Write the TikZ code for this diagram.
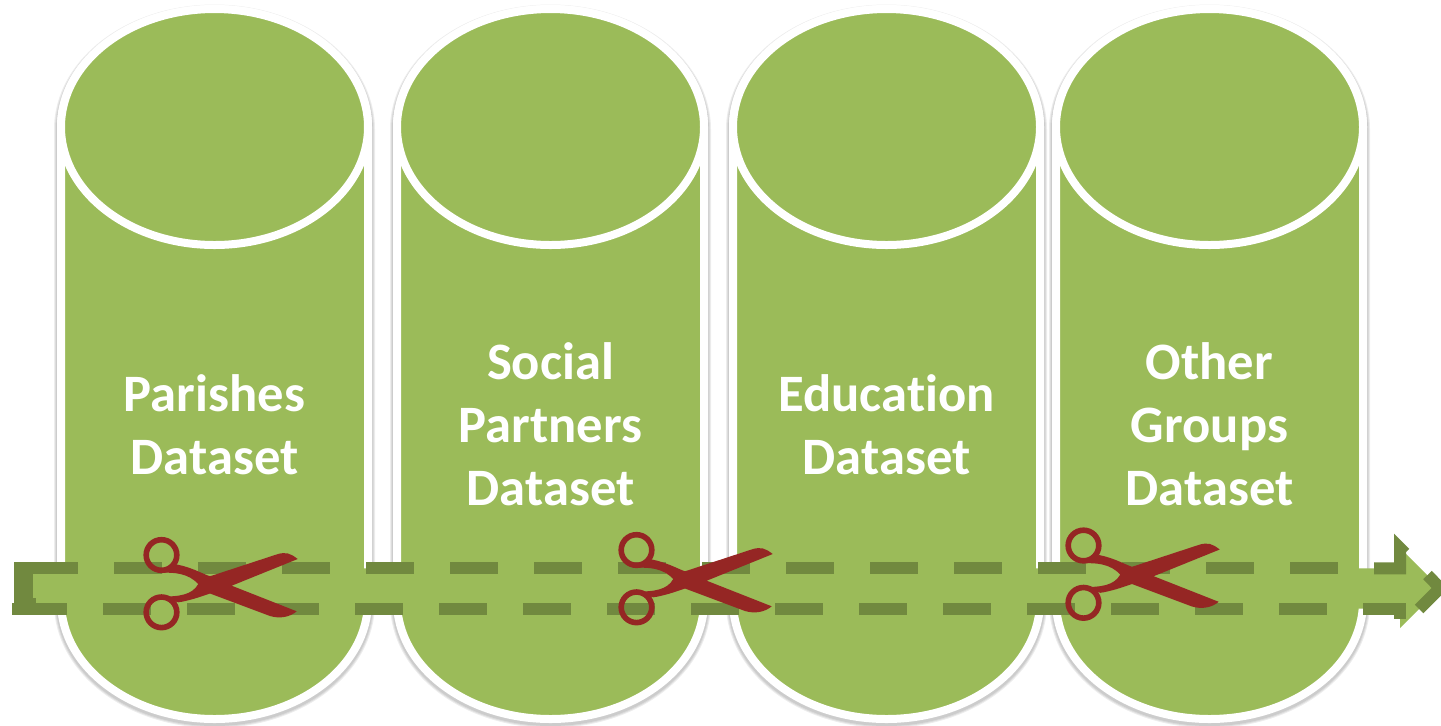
\documentclass[tikz,border=0pt]{standalone}
\usepackage{fontspec}
\usepackage{xcolor}
\setmainfont{Carlito}[Ligatures=NoCommon]
\definecolor{canfill}{HTML}{9BBB59}
\definecolor{cutdark}{HTML}{71893F}
\definecolor{snipred}{HTML}{952624}
\tikzset{
    cantext/.style={text=white, align=center, font=\fontsize{26.3}{31.6}\selectfont\bfseries},
    cutline/.style={draw=cutdark, line width=6pt, miter limit=10},
    cutdash/.style={cutline, dash pattern=on 24pt off 18pt},
    canedge/.style={draw=white, line width=4pt, fill=canfill},
    canshade/.style={draw=black, opacity=0.07},
    pics/datacan/.style={code={
        \foreach \w in {7pt, 6pt, 5pt} {
            \draw[canshade, line width=\w] (-153.5,129.5) arc[start angle=180, end angle=360, x radius=153.5, y radius=118] -- (153.5,603) arc[start angle=0, end angle=180, x radius=153.5, y radius=118] -- cycle;
        }
        \draw[canedge] (-153.5,127) arc[start angle=180, end angle=360, x radius=153.5, y radius=118] -- (153.5,601) arc[start angle=0, end angle=180, x radius=153.5, y radius=118] -- cycle;
        \draw[canedge] (0,127) ellipse[x radius=153.5, y radius=118];
    }},
    pics/snips/.style={code={
        \fill[snipred] (87.7,-24) .. controls (80,-30) and (76,-31) .. (68,-29) -- (0,-6.7) .. controls (-8,-9.5) and (-18,-15.5) .. (-33,-18.5) -- (-46.7,-10.3) .. controls (-36,-10.5) and (-22,-10) .. (-11.7,1) .. controls (-18,12) and (-30,13.5) .. (-50,13.7) -- (-31.7,19.3) .. controls (-22,18) and (-10,14) .. (0,10.5) -- (60,33) .. controls (70,36) and (80,34) .. (86.7,28.3) -- (21.7,2.7) -- cycle;
        \draw[snipred, line width=2.8pt] (-48.5,-28) circle (15.3);
        \draw[snipred, line width=2.8pt] (-48.5,29.3) circle (15.3);
    }}
}

\begin{document}
\begin{tikzpicture}[x=0.5pt, y=-0.5pt]
    \useasboundingbox (0,0) rectangle (1441,725);

    % the four cans
    \pic at (214.5,0) {datacan};
    \pic at (550.5,0) {datacan};
    \pic at (886.5,0) {datacan};
    \pic at (1209.5,0) {datacan};

    \node[cantext] (parishes) at (214.5,424.5) {Parishes\\Dataset};
    \node[cantext] (social) at (550.5,424.5) {Social\\Partners\\Dataset};
    \node[cantext] (education) at (886.5,424.5) {Education\\Dataset};
    \node[cantext] (others) at (1209.5,424.5) {Other\\Groups\\Dataset};

    % arrow through the cans
    \fill[canfill] (24,568.3) -- (1400,568.3) -- (1400,548) -- (1440,588) -- (1400,628) -- (1400,608.7) -- (24,608.7) -- cycle;
    \fill[cutdark] (14,562) rectangle (33,603);
    \fill[cutdark] (14,598) rectangle (36,603);
    \draw[cutline] (17,568.3) -- (78,568.3);
    \draw[cutline] (12,608.7) -- (67,608.7);
    \draw[cutdash] (114,568.3) -- (1374,568.3);
    \draw[cutdash] (103,608.7) -- (1363,608.7);
    \draw[cutline] (1374,568.3) -- (1400,568.3) -- (1400,548) -- (1405,553);
    \draw[cutline] (1363,608.7) -- (1400,608.7) -- (1400,619);
    \draw[cutline] (1427.5,575) -- (1440,588) -- (1419,609);

    % scissors on the arrow
    \pic at (210,583) {snips};
    \pic at (685,578) {snips};
    \pic at (1132,573.5) {snips};
\end{tikzpicture}
\end{document}
